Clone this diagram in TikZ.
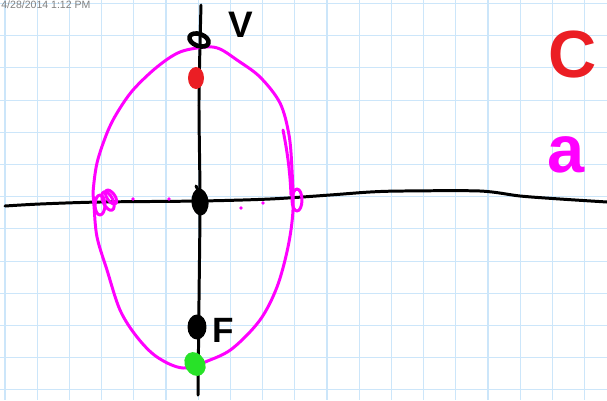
\documentclass[tikz,border=0pt]{standalone}
\usepackage{fontspec}
\setmainfont{Liberation Sans}
\definecolor{gridBlue}{RGB}{204,230,250}
\definecolor{penPink}{RGB}{255,0,255}
\definecolor{penRed}{RGB}{235,30,36}
\definecolor{penGreen}{RGB}{40,226,40}
\definecolor{stampGray}{RGB}{128,128,128}
\begin{document}
\begin{tikzpicture}[x=0.02cm,y=-0.02cm,
    pen/.style={line width=1.7pt,line cap=round,line join=round},
    letter/.style={inner sep=0pt,anchor=center}]
\useasboundingbox (0,0) rectangle (607,400);
\fill[white] (0,0) rectangle (607,400);
% Grid
\foreach \i in {0,...,18}
  \draw[gridBlue,line width=0.6pt] (5+32.2*\i,0) -- (5+32.2*\i,400);
\foreach \j in {0,...,12}
  \draw[gridBlue,line width=0.6pt] (0,3.5+32.2*\j) -- (607,3.5+32.2*\j);
% Time stamp
\node[anchor=base west,inner sep=0pt,text=stampGray,font=\fontsize{6}{6}\selectfont] (stamp) at (1,8.5) {4/28/2014 1:12 PM};
% Axes
\draw[pen] plot[smooth,tension=0.5] coordinates {(5,206) (40,204) (100,202) (200,201) (270,199) (330,195) (370,192) (403,191) (480,191) (520,196) (560,199) (607,202)};
\draw[pen] plot[smooth,tension=0.5] coordinates {(201,5) (199,100) (200,200) (199,300) (198,395)};
% Ellipse
\draw[pen,penPink] plot[smooth cycle,tension=0.55] coordinates {(206,47) (220,49) (237,60) (260,77) (280,103) (289,135) (292,170) (293,210) (288,247) (277,287) (260,320) (233,348) (210,360) (183,368) (157,357) (137,337) (120,310) (107,270) (97,237) (94,206) (93,193) (97,163) (107,133) (117,113) (133,90) (157,67) (180,52)};
\draw[pen,penPink] (283,130) .. controls (287,150) and (290,170) .. (291,195);
% Loops on the axis
\draw[pen,penPink] (100,205) ellipse[x radius=5,y radius=10];
\draw[pen,penPink,rotate around={25:(108,201)}] (108,201) ellipse[x radius=5,y radius=10];
\draw[pen,penPink,rotate around={35:(111,197)}] (111,197) ellipse[x radius=4,y radius=8];
\draw[pen,penPink] (297,200) ellipse[x radius=5,y radius=11];
\foreach \p in {(133,199),(169,199),(241,208),(263,203)}
  \fill[penPink] \p circle[radius=1.8];
% Points
\draw[pen,line width=2.6pt,rotate around={-20:(199,40)}] (199,40) ellipse[x radius=10,y radius=6];
\fill[penRed] (196,78) ellipse[x radius=8,y radius=11];
\fill[rotate around={5:(200,202)}] (200,202) ellipse[x radius=8.5,y radius=13.5];
\draw[pen] (196,186) -- (199,192);
\draw[pen,fill=black] (197,327) ellipse[x radius=8,y radius=11];
\fill[penGreen,rotate around={30:(195,364)}] (195,364) ellipse[x radius=10,y radius=12.5];
% Labels
\node[letter,font=\bfseries\fontsize{21}{21}\selectfont] (vertex) at (241,25) {V};
\node[letter,font=\bfseries\fontsize{20}{20}\selectfont] (focus) at (223,330) {F};
\node[letter,text=penRed,font=\bfseries\fontsize{38}{38}\selectfont] (cLabel) at (573,55) {C};
\node[letter,text=penPink,font=\bfseries\fontsize{38}{38}\selectfont] (aLabel) at (566,155) {a};
\end{tikzpicture}
\end{document}
